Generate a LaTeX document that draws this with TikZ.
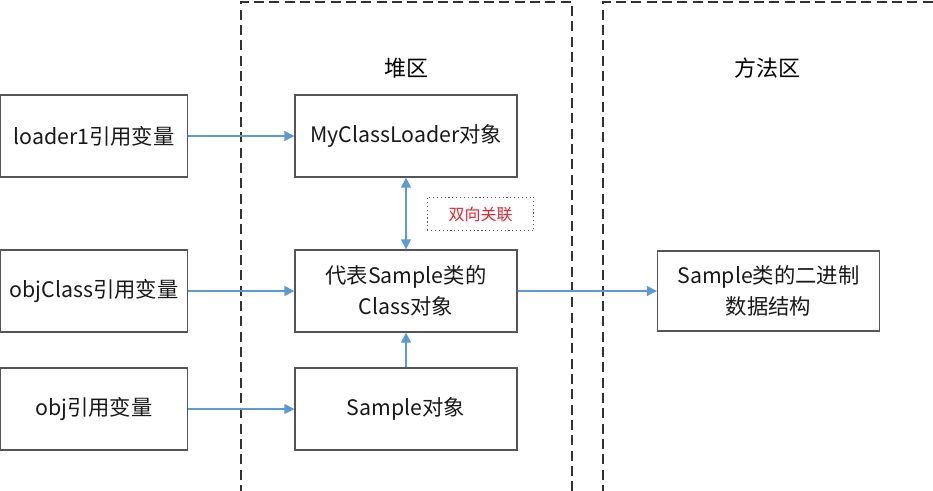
\documentclass[tikz,border=0pt]{standalone}
\usepackage{fontspec}
\setmainfont{Noto Sans CJK SC}
\usetikzlibrary{arrows.meta}
\definecolor{linkblue}{RGB}{91,155,213}
\definecolor{framegray}{RGB}{85,85,85}
\definecolor{zonegray}{RGB}{50,50,50}
\definecolor{tagred}{RGB}{235,35,45}

\begin{document}
\begin{tikzpicture}[x=0.75pt,y=0.75pt,yscale=-1,xscale=1,
    refbox/.style={draw=framegray,line width=1pt,minimum width=140pt,minimum height=61.5pt,inner sep=0pt,align=center,text=black!90,font=\fontsize{16}{23}\selectfont},
    heapbox/.style={refbox,minimum width=166.5pt},
    zone/.style={draw=zonegray,line width=1.2pt,dash pattern=on 7.5pt off 4pt},
    link/.style={draw=linkblue,line width=1pt,-{Triangle[length=7.5pt,width=7.5pt]}},
    twolink/.style={link,{Triangle[length=7.5pt,width=7.5pt]}-{Triangle[length=7.5pt,width=7.5pt]}}]
        \useasboundingbox (0,0) rectangle (933,490);
        \fill[white] (0,0) rectangle (933,490);

        % memory zones
        \draw [zone] (241,495) -- (241,2) -- (572,2) -- (572,495) ;
        \draw [zone] (603,495) -- (603,2) -- (940,2) ;
        \node (heapTitle) at (406,68) [font=\fontsize{16.5}{20}\selectfont] {堆区};
        \node (methodTitle) at (767,68) [font=\fontsize{16.5}{20}\selectfont] {方法区};

        % reference variables
        \node (loaderRef) at (94,136) [refbox] {loader1引用变量};
        \node (classRef) at (94,291) [refbox] {objClass引用变量};
        \node (objRef) at (94,409) [refbox] {obj引用变量};

        % heap objects
        \node (loaderObj) at (406,136) [heapbox] {MyClassLoader对象};
        \node (classObj) at (406,291) [heapbox] {代表Sample类的\\Class对象};
        \node (sampleObj) at (406,409) [heapbox] {Sample对象};
        \node (bindTag) at (480.5,214) [draw=framegray,dotted,line width=0.9pt,minimum width=80pt,minimum height=25pt,text=tagred,font=\fontsize{12}{14}\selectfont] {双向关联};

        % method area
        \node (binData) at (768.5,291) [heapbox,minimum height=60pt] {Sample类的二进制\\数据结构};

        \draw [link] (loaderRef) -- (loaderObj) ;
        \draw [link] (classRef) -- (classObj) ;
        \draw [link] (objRef) -- (sampleObj) ;
        \draw [link] (sampleObj) -- (classObj) ;
        \draw [twolink] (classObj) -- (loaderObj) ;
        \draw [link] (classObj) -- (binData) ;
    \end{tikzpicture}
\end{document}
